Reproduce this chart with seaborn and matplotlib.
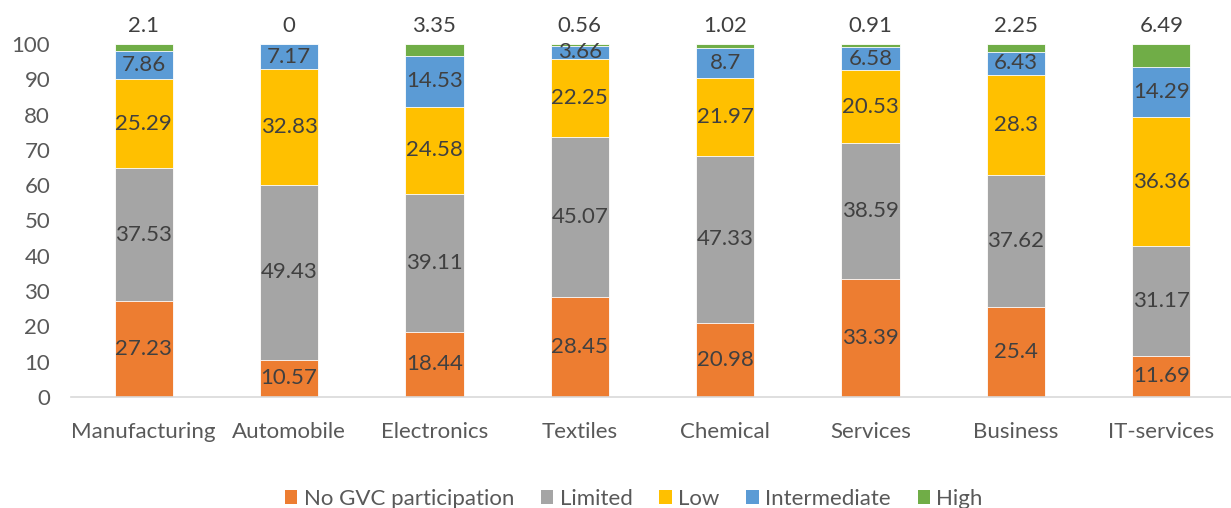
import matplotlib
matplotlib.use("Agg")
import matplotlib.pyplot as plt
import seaborn as sns
import pandas as pd
import numpy as np
from matplotlib.patches import Patch

sectors = ["Manufacturing", "Automobile", "Electronics", "Textiles",
           "Chemical", "Services", "Business", "IT-services"]
no_gvc = [27.23, 10.57, 18.44, 28.45, 20.98, 33.39, 25.4, 11.69]
limited = [37.53, 49.43, 39.11, 45.07, 47.33, 38.59, 37.62, 31.17]
low = [25.29, 32.83, 24.58, 22.25, 21.97, 20.53, 28.3, 36.36]
intermediate = [7.86, 7.17, 14.53, 3.66, 8.7, 6.58, 6.43, 14.29]
high = [2.1, 0, 3.35, 0.56, 1.02, 0.91, 2.25, 6.49]

series_names = ["No GVC participation", "Limited", "Low", "Intermediate", "High"]
series_values = [no_gvc, limited, low, intermediate, high]
colors = ["#ED7D31", "#A5A5A5", "#FFC000", "#5B9BD5", "#70AD47"]
text_col = "#404040"
tick_col = "#595959"
fs = 16

sns.set_theme(style="white")
plt.rcParams["font.family"] = ["Lato", "DejaVu Sans"]

vals = np.array(series_values)
cum = np.cumsum(vals, axis=0)
df = pd.DataFrame({"sector": sectors})
for i, name in enumerate(series_names):
    df[name] = cum[i]

fig = plt.figure(figsize=(12.31, 5.08), dpi=100)
ax = fig.add_axes([71 / 1231, 1 - 397 / 508, (1234 - 71) / 1231, (397 - 44) / 508])

# stacked bars: draw cumulative totals from the top layer down
for i in range(len(series_names) - 1, -1, -1):
    sns.barplot(data=df, x="sector", y=series_names[i], color=colors[i],
                width=0.4, saturation=1, edgecolor="white", linewidth=0.6,
                ax=ax)

# value labels centred in each segment (all but the top layer)
for i in range(len(series_names) - 1):
    for j in range(len(sectors)):
        v = vals[i, j]
        centre = cum[i, j] - v / 2
        ax.text(j, centre, f"{v:g}", ha="center", va="center",
                fontsize=fs, color=text_col)

# top-layer values above each bar
for j in range(len(sectors)):
    ax.annotate(f"{vals[-1, j]:g}", xy=(j, cum[-1, j]), xytext=(0, 6),
                textcoords="offset points", ha="center", va="bottom",
                fontsize=fs, color=text_col, annotation_clip=False)

ax.set_xlim(-0.5, len(sectors) - 0.5)
ax.set_ylim(0, 100)
ax.set_yticks(range(0, 101, 10))
ax.set_xlabel("")
ax.set_ylabel("")
for s in ["top", "right", "left"]:
    ax.spines[s].set_visible(False)
ax.spines["bottom"].set_color("#D9D9D9")
ax.spines["bottom"].set_linewidth(1.2)
ax.tick_params(axis="both", length=0, labelsize=fs, colors=tick_col)
ax.tick_params(axis="y", pad=15)
ax.tick_params(axis="x", pad=18)

handles = [Patch(facecolor=c, edgecolor="none") for c in colors]
fig.legend(handles, series_names, loc="center", bbox_to_anchor=(634 / 1231, 1 - 499 / 508),
           ncol=5, frameon=False, fontsize=fs, labelcolor=tick_col,
           handlelength=0.55, handleheight=0.55, handletextpad=0.3, columnspacing=1.2)

fig.savefig("out.png", dpi=100)
